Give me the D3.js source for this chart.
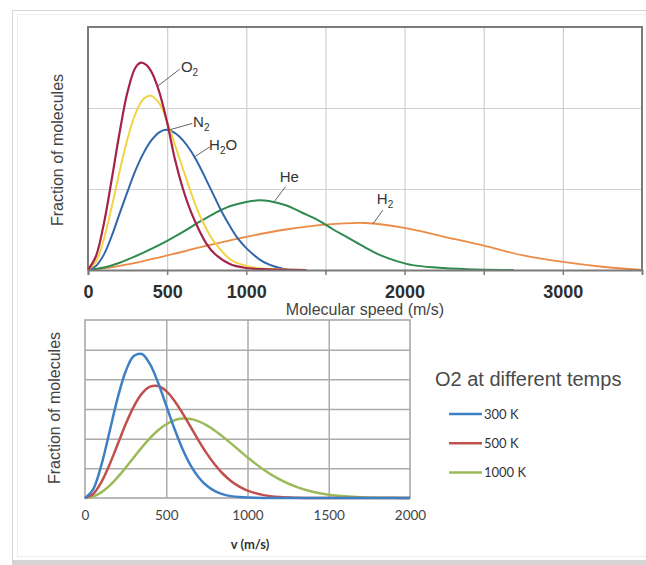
<!DOCTYPE html>
<html><head><meta charset="utf-8">
<script src="https://cdn.jsdelivr.net/npm/d3@7"></script>
<style>body{margin:0;background:#fff}svg{display:block}</style>
</head><body>
<script>
// ---------- Top chart data (speed m/s, relative fraction) ----------
const topTicks = [0, 500, 1000, 1500, 2000, 2500, 3000];
const topTickLabels = ["0", "500", "1000", "", "2000", "", "3000"];
const O2 = [[0,0],[50,0.17],[100,0.57],[150,1.12],[200,1.70],[250,2.20],[300,2.50],[335,2.56],[370,2.53],[400,2.45],[450,2.20],[500,1.82],[550,1.36],[600,1.00],[650,0.72],[700,0.50],[750,0.32],[800,0.20],[900,0.07],[1000,0.025],[1100,0.01],[1200,0.004],[1380,0]];
const N2 = [[0,0],[50,0.10],[100,0.38],[150,0.78],[200,1.22],[250,1.62],[300,1.93],[350,2.11],[395,2.15],[450,2.06],[500,1.83],[550,1.54],[600,1.25],[650,0.96],[700,0.70],[750,0.50],[800,0.34],[900,0.13],[1000,0.05],[1100,0.02],[1200,0.008],[1380,0]];
const H2O = [[0,0],[50,0.05],[100,0.19],[150,0.42],[200,0.70],[250,0.97],[300,1.23],[350,1.44],[400,1.60],[450,1.70],[492,1.73],[550,1.69],[600,1.60],[650,1.47],[700,1.30],[750,1.10],[800,0.90],[850,0.70],[900,0.53],[950,0.38],[1000,0.27],[1100,0.11],[1200,0.03],[1270,0]];
const He = [[0,0],[100,0.03],[200,0.09],[300,0.17],[400,0.26],[500,0.36],[600,0.47],[700,0.59],[800,0.70],[900,0.79],[1000,0.84],[1080,0.86],[1150,0.85],[1250,0.80],[1350,0.71],[1450,0.62],[1550,0.50],[1650,0.39],[1750,0.28],[1850,0.18],[1950,0.11],[2050,0.06],[2200,0.03],[2400,0.01],[2690,0]];
const H2 = [[0,0],[100,0.02],[250,0.07],[500,0.18],[750,0.30],[1000,0.41],[1250,0.50],[1500,0.56],[1750,0.58],[2000,0.52],[2250,0.41],[2500,0.30],[2750,0.18],[3000,0.10],[3250,0.04],[3500,0]];

// ---------- Bottom chart data: O2 at different temperatures ----------
const bottomTicks = [0, 500, 1000, 1500, 2000];
const bottomSpeeds = [0,50,100,150,200,250,300,350,400,450,500,550,600,650,700,750,800,850,900,950,1000,1100,1200,1300,1400,1500,1600,1700,1800,1900,2000];
const T300 = [0,0.294,1.099,2.208,3.349,4.266,4.787,4.852,4.510,3.882,3.115,2.341,1.653,1.101,0.692,0.411,0.232,0.124,0.063,0.030,0.014,0.0025,0.0004,0,0,0,0,0,0,0,0];
const T500 = [0,0.137,0.528,1.110,1.795,2.483,3.082,3.519,3.752,3.774,3.604,3.282,2.863,2.396,1.928,1.496,1.119,0.809,0.565,0.382,0.250,0.097,0.033,0.010,0.003,0.001,0,0,0,0,0];
const T1000 = [0,0.048,0.188,0.408,0.693,1.021,1.366,1.707,2.019,2.283,2.486,2.619,2.677,2.663,2.584,2.448,2.270,2.060,1.833,1.599,1.369,0.951,0.616,0.373,0.212,0.113,0.057,0.027,0.012,0.005,0.002];
const legendLabels = ["300 K", "500 K", "1000 K"];

const W = 646, H = 565;
const svg = d3.select("body").append("svg").attr("width", W).attr("height", H);

// card frame
svg.append("rect").attr("x", 12.5).attr("y", 10.5).attr("width", 700).attr("height", 550)
  .attr("fill", "#fff").attr("stroke", "#d6d6d6");
svg.append("rect").attr("x", 17.5).attr("y", 14.5).attr("width", 700).attr("height", 542)
  .attr("fill", "none").attr("stroke", "#ececec");
svg.append("rect").attr("x", 12).attr("y", 560).attr("width", 700).attr("height", 5).attr("fill", "#d4d4d4");

// ================= TOP CHART =================
const x = d3.scaleLinear().domain([0, 3500]).range([88, 642]);
const y = d3.scaleLinear().domain([0, 3]).range([270, 27]);
const gTop = svg.append("g");

// grid
gTop.append("g").attr("transform", `translate(0,${y(0)})`)
  .call(d3.axisBottom(x).tickValues(topTicks.slice(1)).tickSize(-(y(0) - y(3))).tickFormat(""))
  .call(g => g.select(".domain").remove())
  .call(g => g.selectAll("line").attr("stroke", "#cfcfcf").attr("stroke-width", 1.2));
gTop.append("g").attr("transform", `translate(${x(0)},0)`)
  .call(d3.axisLeft(y).tickValues([1, 2]).tickSize(-(x(3500) - x(0))).tickFormat(""))
  .call(g => g.select(".domain").remove())
  .call(g => g.selectAll("line").attr("stroke", "#cfcfcf").attr("stroke-width", 1.2));

// frame
gTop.append("path")
  .attr("d", `M${x(0)},${y(0)}V${y(3)}H${x(3500)}V${y(0)}`)
  .attr("fill", "none").attr("stroke", "#7a7a7a").attr("stroke-width", 2);

const lineTop = d3.line().x(d => x(d[0])).y(d => y(d[1])).curve(d3.curveCatmullRom.alpha(0.5));
const topSeries = [
  {data: H2, color: "#ec8b45", w: 1.8},
  {data: He, color: "#2f8a4f", w: 2},
  {data: H2O, color: "#3166ad", w: 2},
  {data: N2, color: "#f1d444", w: 2},
  {data: O2, color: "#a3234d", w: 2.2}
];
gTop.selectAll("path.curve").data(topSeries).join("path").attr("class", "curve")
  .attr("d", d => lineTop(d.data)).attr("fill", "none")
  .attr("stroke", d => d.color).attr("stroke-width", d => d.w);

// x axis
gTop.append("g").attr("transform", `translate(0,${y(0)})`)
  .call(d3.axisBottom(x).tickValues(topTicks).tickSize(5).tickPadding(10)
    .tickFormat((d, i) => topTickLabels[i]))
  .call(g => g.select(".domain").attr("stroke", "#7a7a7a").attr("stroke-width", 2))
  .call(g => g.selectAll("line").attr("stroke", "#7a7a7a").attr("stroke-width", 1.5))
  .call(g => g.selectAll("text").attr("font-family", "Liberation Sans, Arial, sans-serif")
    .attr("font-size", 18).attr("font-weight", "bold").attr("fill", "#2e2e2e"));

gTop.append("text").attr("x", 365).attr("y", 315).attr("text-anchor", "middle")
  .attr("font-family", "Liberation Sans, Arial, sans-serif").attr("font-size", 16).attr("fill", "#444")
  .text("Molecular speed (m/s)");
gTop.append("text").attr("transform", "translate(63,150) rotate(-90)").attr("text-anchor", "middle")
  .attr("font-family", "Liberation Sans, Arial, sans-serif").attr("font-size", 16).attr("fill", "#444")
  .text("Fraction of molecules");

// curve labels with leader lines
function valAt(data, s) {
  for (let i = 1; i < data.length; i++) {
    if (data[i][0] >= s) {
      const a = data[i - 1], b = data[i];
      return a[1] + (b[1] - a[1]) * (s - a[0]) / (b[0] - a[0]);
    }
  }
  return 0;
}
const annots = [
  {data: O2, s: 437, tip: [580, 2.48], txt: [587, 2.44], main: "O", sub: "2"},
  {data: N2, s: 517, tip: [660, 1.81], txt: [664, 1.765], main: "N", sub: "2"},
  {data: H2O, s: 672, tip: [770, 1.52], txt: [765, 1.48], main: "H", sub: "2", tail: "O"},
  {data: He, s: 1174, tip: [1249, 1.03], txt: [1211, 1.086], main: "He"},
  {data: H2, s: 1800, tip: [1863, 0.74], txt: [1825, 0.815], main: "H", sub: "2"}
];
annots.forEach(a => {
  gTop.append("line").attr("x1", x(a.s)).attr("y1", y(valAt(a.data, a.s)))
    .attr("x2", x(a.tip[0])).attr("y2", y(a.tip[1])).attr("stroke", "#666").attr("stroke-width", 1);
  const t = gTop.append("text").attr("x", x(a.txt[0])).attr("y", y(a.txt[1]))
    .attr("font-family", "Liberation Sans, Arial, sans-serif").attr("font-size", 15).attr("fill", "#333");
  t.append("tspan").text(a.main);
  if (a.sub) t.append("tspan").attr("font-size", 10).attr("dy", 4).text(a.sub);
  if (a.tail) t.append("tspan").attr("dy", -4).text(a.tail);
});

// ================= BOTTOM CHART =================
const xB = d3.scaleLinear().domain([0, 2000]).range([85, 410]);
const yB = d3.scaleLinear().domain([0, 6]).range([498, 320]);
const gB = svg.append("g");

gB.append("g").attr("transform", `translate(0,${yB(0)})`)
  .call(d3.axisBottom(xB).tickValues([500, 1000, 1500]).tickSize(-(yB(0) - yB(6))).tickFormat(""))
  .call(g => g.select(".domain").remove())
  .call(g => g.selectAll("line").attr("stroke", "#ababab").attr("stroke-width", 1.5));
gB.append("g").attr("transform", `translate(${xB(0)},0)`)
  .call(d3.axisLeft(yB).tickValues([1, 2, 3, 4, 5]).tickSize(-(xB(2000) - xB(0))).tickFormat(""))
  .call(g => g.select(".domain").remove())
  .call(g => g.selectAll("line").attr("stroke", "#ababab").attr("stroke-width", 1.5));
gB.append("rect").attr("x", xB(0)).attr("y", yB(6)).attr("width", xB(2000) - xB(0)).attr("height", yB(0) - yB(6))
  .attr("fill", "none").attr("stroke", "#a3a3a3").attr("stroke-width", 1.5);

const bottomSeries = [
  {vals: T1000, color: "#9bbb59"},
  {vals: T500, color: "#c0504d"},
  {vals: T300, color: "#3f80c4"}
];
const lineB = d3.line().x((d, i) => xB(bottomSpeeds[i])).y(d => yB(d)).curve(d3.curveCatmullRom.alpha(0.5));
gB.selectAll("path.curveB").data(bottomSeries).join("path").attr("class", "curveB")
  .attr("d", d => lineB(d.vals)).attr("fill", "none")
  .attr("stroke", d => d.color).attr("stroke-width", 2.5);

gB.append("g").attr("transform", `translate(0,${yB(0)})`)
  .call(d3.axisBottom(xB).tickValues(bottomTicks).tickSize(0).tickPadding(12).tickFormat(d3.format("d")))
  .call(g => g.select(".domain").remove())
  .call(g => g.selectAll("text").attr("font-family", "Lato, sans-serif").attr("font-size", 13.5).attr("fill", "#444"));

gB.append("text").attr("x", 250).attr("y", 549).attr("text-anchor", "middle")
  .attr("font-family", "Lato, sans-serif").attr("font-size", 13).attr("font-weight", "bold").attr("fill", "#333")
  .text("v (m/s)");
gB.append("text").attr("transform", "translate(60,408) rotate(-90)").attr("text-anchor", "middle")
  .attr("font-family", "Liberation Sans, Arial, sans-serif").attr("font-size", 16).attr("fill", "#444")
  .text("Fraction of molecules");

// legend
gB.append("text").attr("x", 435).attr("y", 386)
  .attr("font-family", "Liberation Sans, Arial, sans-serif").attr("font-size", 20).attr("fill", "#4a4a4a")
  .text("O2 at different temps");
const legColors = ["#3f80c4", "#c0504d", "#9bbb59"];
const leg = gB.selectAll("g.leg").data(legendLabels).join("g").attr("class", "leg")
  .attr("transform", (d, i) => `translate(449,${414 + i * 29.3})`);
leg.append("line").attr("x1", 0).attr("x2", 33).attr("stroke", (d, i) => legColors[i]).attr("stroke-width", 2.5);
leg.append("text").attr("x", 35).attr("dy", "0.35em")
  .attr("font-family", "Lato, sans-serif").attr("font-size", 13).attr("fill", "#333").text(d => d);
</script>
</body></html>
